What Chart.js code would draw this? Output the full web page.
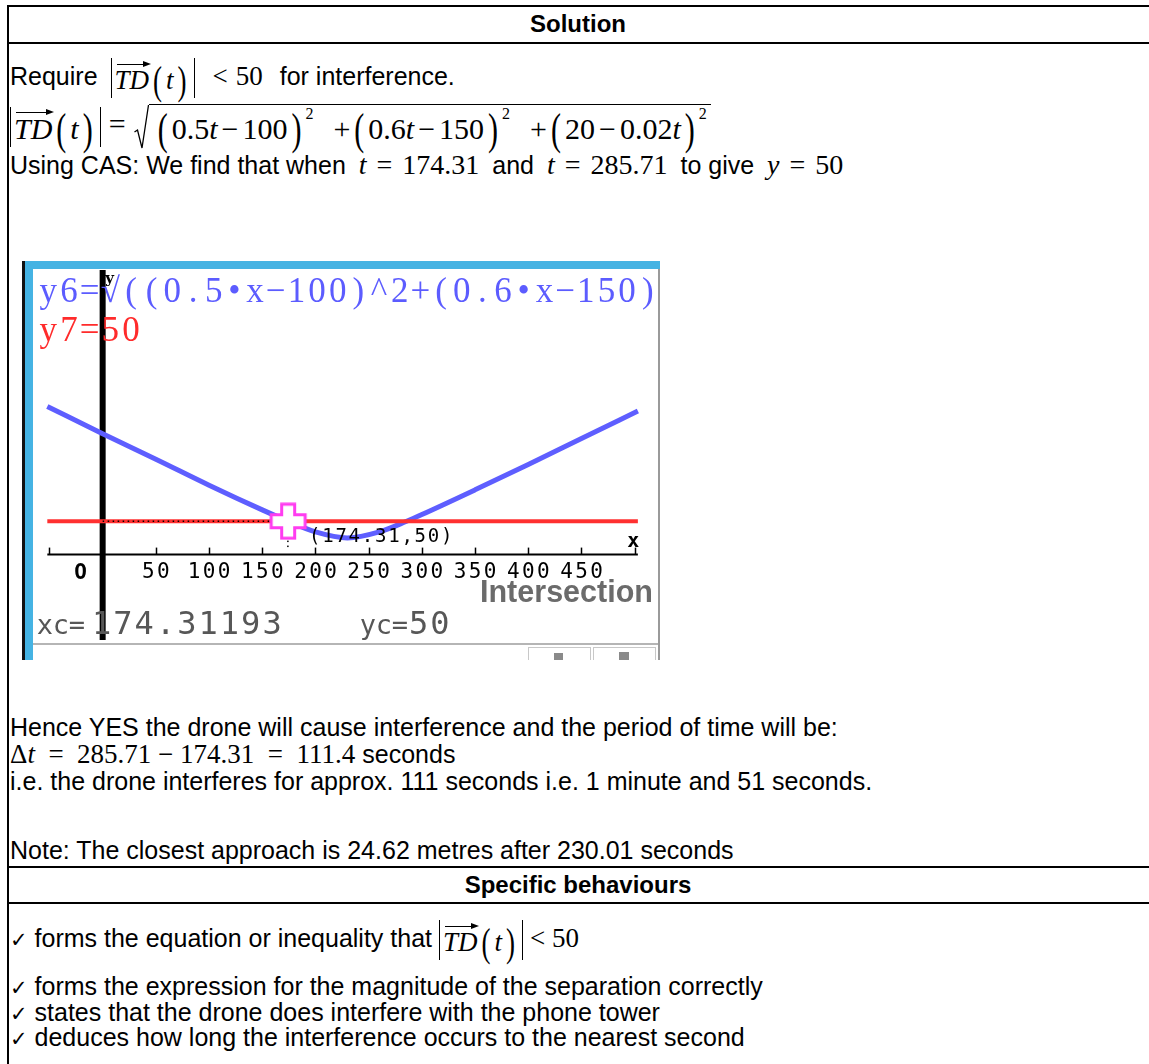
<!DOCTYPE html>
<html>
<head>
<meta charset="utf-8">
<script src="https://cdn.jsdelivr.net/npm/chart.js@4.4.1/dist/chart.umd.min.js"></script>
<style>
body{margin:0;width:1149px;height:1064px;background:#fff;position:relative;overflow:hidden;font-family:"Liberation Sans",Arial,sans-serif;font-size:25px;color:#000}
.ln{position:absolute;background:#000}
.t{position:absolute;left:10px;white-space:nowrap;line-height:28px}
.tt{line-height:44px}
.b{font-weight:bold;font-size:24px}
.m{font-family:"Liberation Serif","Times New Roman",serif;font-size:28px;margin:0 6px}
.eq{display:inline-block;margin:0 10px}
.abs{display:inline-block;border-left:1.3px solid #000;border-right:1.3px solid #000;padding:0 3px;height:40px;line-height:44px;vertical-align:middle;font-family:"Liberation Serif",serif;font-size:27px}
.vec{position:relative;display:inline-block;line-height:27px}
.vec:before{content:"";position:absolute;left:2px;right:1px;top:-3px;border-top:1.3px solid #000}
.vec:after{content:"";position:absolute;right:-2px;top:-6px;border-left:8px solid #000;border-top:3px solid transparent;border-bottom:3px solid transparent}
.rad{display:inline-flex;vertical-align:middle;height:46px}
.radc{border-top:1.3px solid #000;display:inline-flex;align-items:center;padding:2px 4px 0 5px}
.bp{display:inline-block;transform:scaleY(1.5);margin:0 4px}
.sp{display:inline-block;width:20px}
sup{font-size:16px;position:relative;top:-15px;vertical-align:baseline}
.ck{font-family:"DejaVu Sans",sans-serif;font-size:21px}
#calc{position:absolute;left:22px;top:261px}
</style>
</head>
<body>
<div class="ln" style="left:7px;top:5px;width:1142px;height:2px"></div>
<div class="ln" style="left:7px;top:42px;width:1142px;height:2px"></div>
<div class="ln" style="left:7px;top:5px;width:2px;height:1059px"></div>
<div class="ln" style="left:7px;top:866px;width:1142px;height:2px"></div>
<div class="ln" style="left:7px;top:902px;width:1142px;height:2px"></div>

<div class="t b" style="left:0;width:1156px;text-align:center;top:10px">Solution</div>

<div class="t tt" style="top:54px">Require <span class="abs" style="margin-left:6px"><span class="vec"><i>TD</i></span><span class="bp">(</span><i>t</i><span class="bp">)</span></span><span class="m" style="margin:0 10px;font-size:27px"><span class="eq" style="margin:0 8px">&lt;</span>50</span> for interference.</div>

<div class="t tt m" style="top:102px;font-size:30px;margin:0"><span class="abs" style="font-size:30px"><span class="vec"><i>TD</i></span><span class="bp">(</span><i>t</i><span class="bp">)</span></span><span class="eq" style="margin:0 8px">=</span><span class="rad"><svg width="15" height="46" viewBox="0 0 15 46"><path d="M0.5 28 L3.5 26 L8 44 L14.5 1" fill="none" stroke="#000" stroke-width="1.3"/></svg><span class="radc"><span class="bp">(</span>0.5<i>t</i><span class="eq" style="margin:0 4px">&minus;</span>100<span class="bp">)</span><sup>2</sup><span class="sp"></span>+<span class="bp">(</span>0.6<i>t</i><span class="eq" style="margin:0 4px">&minus;</span>150<span class="bp">)</span><sup>2</sup><span class="sp"></span>+<span class="bp">(</span>20<span class="eq" style="margin:0 4px">&minus;</span>0.02<i>t</i><span class="bp">)</span><sup>2</sup></span></span></div>

<div class="t" style="top:151px">Using CAS: We find that when <span class="m"><i>t</i><span class="eq">=</span>174.31</span> and <span class="m"><i>t</i><span class="eq">=</span>285.71</span> to give <span class="m"><i>y</i><span class="eq">=</span>50</span></div>

<canvas id="calc" width="638" height="399"></canvas>

<div class="t" style="top:713px">Hence YES the drone will cause interference and the period of time will be:</div>
<div class="t" style="top:740px"><span class="m" style="margin:0;font-size:27px">&Delta;<i>t</i> &nbsp;= &nbsp;285.71 &minus; 174.31 &nbsp;= &nbsp;111.4</span> seconds</div>
<div class="t" style="top:767px">i.e. the drone interferes for approx. 111 seconds i.e. 1 minute and 51 seconds.</div>
<div class="t" style="top:836px">Note: The closest approach is 24.62 metres after 230.01 seconds</div>

<div class="t b" style="left:0;width:1156px;text-align:center;top:871px">Specific behaviours</div>

<div class="t tt" style="top:916px"><span class="ck">&#10003;</span> forms the equation or inequality that <span class="abs"><span class="vec"><i>TD</i></span><span class="bp">(</span><i>t</i><span class="bp">)</span></span> <span class="m" style="margin:0;font-size:27px">&lt; 50</span></div>
<div class="t" style="top:972px"><span class="ck">&#10003;</span> forms the expression for the magnitude of the separation correctly</div>
<div class="t" style="top:998px"><span class="ck">&#10003;</span> states that the drone does interfere with the phone tower</div>
<div class="t" style="top:1023px"><span class="ck">&#10003;</span> deduces how long the interference occurs to the nearest second</div>

<script>
// values
var curveX = [-52, 0, 50, 100, 150, 174.31, 200, 230, 260, 285.71, 300, 350, 400, 450, 503];
var curveY = [222, 181, 143, 104, 67, 50, 34, 25, 34, 50, 60, 97, 135, 174, 215];
var levelX = [-52, 503];
var levelY = [50, 50];
var hitX = 174.31;
var hitY = 50;
var tickLabels = [50, 100, 150, 200, 250, 300, 350, 400, 450];
var tickMarks = [-50, 50, 100, 150, 200, 250, 300, 350, 400, 450, 500];

function pts(xs, ys) {
    return xs.map(function (x, i) { return {x: x, y: ys[i]}; });
}

// pink cross cursor
var cursor = document.createElement('canvas');
cursor.width = 40; cursor.height = 38;
(function () {
    var c = cursor.getContext('2d');
    var cx = 20, cy = 19, a = 17, w = 6.5;
    c.beginPath();
    c.moveTo(cx - w, cy - a); c.lineTo(cx + w, cy - a); c.lineTo(cx + w, cy - w);
    c.lineTo(cx + a, cy - w); c.lineTo(cx + a, cy + w); c.lineTo(cx + w, cy + w);
    c.lineTo(cx + w, cy + a); c.lineTo(cx - w, cy + a); c.lineTo(cx - w, cy + w);
    c.lineTo(cx - a, cy + w); c.lineTo(cx - a, cy - w); c.lineTo(cx - w, cy - w);
    c.closePath();
    c.fillStyle = '#fff'; c.fill();
    c.lineWidth = 3; c.strokeStyle = '#ff3cf0'; c.stroke();
})();

function grid(ctx, s, x, y, cw, font, color) {
    ctx.font = font; ctx.fillStyle = color;
    ctx.textAlign = 'center'; ctx.textBaseline = 'alphabetic';
    for (var i = 0; i < s.length; i++) ctx.fillText(s[i], x + cw * (i + 0.5), y);
}

var calcScreen = {
    id: 'calcScreen',
    beforeDraw: function (chart) {
        var c = chart.ctx, W = chart.width, H = chart.height;
        c.save();
        c.fillStyle = '#fff'; c.fillRect(0, 0, W, H);
        c.fillStyle = '#111'; c.fillRect(0, 0, 3, H);
        c.fillStyle = '#45b3e3'; c.fillRect(3, 0, 8, H); c.fillRect(3, 0, W - 3, 8);
        c.fillStyle = '#9a9a9a'; c.fillRect(W - 2, 8, 2, H - 8);
        c.fillStyle = '#b5b5b5'; c.fillRect(11, 382, W - 13, 2);
        c.strokeStyle = '#c8c8c8'; c.lineWidth = 1;
        c.strokeRect(506.5, 386.5, 62, 14); c.strokeRect(571.5, 386.5, 62, 14);
        c.fillStyle = '#8a8a8a';
        c.fillRect(532, 392, 9, 7); c.fillRect(597, 391, 10, 8);
        c.restore();
    },
    beforeDatasetsDraw: function (chart) {
        var c = chart.ctx, xs = chart.scales.x, ys = chart.scales.y;
        var y0 = ys.getPixelForValue(0), x0 = xs.getPixelForValue(0);
        c.save();
        c.strokeStyle = '#000'; c.lineWidth = 2;
        c.beginPath(); c.moveTo(xs.getPixelForValue(-52), y0); c.lineTo(xs.getPixelForValue(503), y0); c.stroke();
        tickMarks.forEach(function (v) {
            var p = Math.round(xs.getPixelForValue(v)) + 0.5;
            c.beginPath(); c.moveTo(p, y0); c.lineTo(p, y0 - 7); c.lineWidth = 1.5; c.stroke();
        });
        tickLabels.forEach(function (v) {
            var s = String(v), cw = 15;
            grid(c, s, xs.getPixelForValue(v) - cw * s.length / 2, y0 + 23, cw, '21px "DejaVu Sans Mono"', '#000');
        });
        grid(c, 'O', x0 - 30, y0 + 24, 16, 'bold 21px "DejaVu Sans Mono"', '#000');
        grid(c, 'x', xs.getPixelForValue(492), y0 - 8, 14, 'bold 20px "DejaVu Sans Mono"', '#000');
        c.fillStyle = '#000'; c.fillRect(x0 - 3, 9, 6, 370);
        grid(c, 'y', x0 + 2, 22, 10, 'bold 15px "DejaVu Serif"', '#000');
        c.restore();
    },
    afterDatasetsDraw: function (chart) {
        var c = chart.ctx, xs = chart.scales.x, ys = chart.scales.y;
        var y0 = ys.getPixelForValue(0), px = xs.getPixelForValue(hitX);
        c.save();
        grid(c, 'y6=\u221a((0.5\u2022x\u2212100)^2+(0.6\u2022x\u2212150)', 16, 41, 20.67, '35px "Liberation Serif"', '#5c5cff');
        grid(c, 'y7=50', 16, 80, 20.67, '35px "Liberation Serif"', '#ff2b2b');
        grid(c, '(174.31,50)', px + 20, y0 - 13, 13.2, '19px "DejaVu Sans Mono"', '#000');
        c.fillStyle = '#000';
        c.fillRect(px - 1, y0 - 14, 1.5, 1.5); c.fillRect(px - 1, y0 - 9, 1.5, 1.5);
        c.font = 'bold 31px "Liberation Sans"';
        c.textAlign = 'left';
        var s = 'Intersection', w = c.measureText(s).width;
        c.translate(458, 341); c.scale(173 / w, 1);
        c.lineWidth = 4; c.strokeStyle = '#fff'; c.lineJoin = 'round'; c.strokeText(s, 0, 0);
        c.fillStyle = '#6b6b6b'; c.fillText(s, 0, 0);
        c.setTransform(1, 0, 0, 1, 0, 0);
        grid(c, 'xc=', 15, 373, 16, '27px "DejaVu Sans Mono"', '#575757');
        grid(c, '174.31193', 69, 373, 21.3, '32px "DejaVu Sans Mono"', '#575757');
        grid(c, 'yc=', 338, 373, 16, '27px "DejaVu Sans Mono"', '#575757');
        grid(c, '50', 386, 373, 21.3, '32px "DejaVu Sans Mono"', '#575757');
        c.restore();
    }
};

new Chart(document.getElementById('calc'), {
    type: 'line',
    data: {
        datasets: [
            {label: 'cursor', type: 'scatter', data: [{x: hitX, y: hitY}], pointStyle: cursor, pointRadius: 19, order: -1},
            {label: 'trace', data: [{x: 0, y: hitY}, {x: hitX, y: hitY}], borderColor: '#000', borderWidth: 1.5, borderDash: [1.5, 3.5], pointRadius: 0, order: 0},
            {label: 'y7', data: pts(levelX, levelY), borderColor: '#ff3030', borderWidth: 4, pointRadius: 0, order: 1},
            {label: 'y6', data: pts(curveX, curveY), borderColor: '#5e5eff', borderWidth: 5, pointRadius: 0, cubicInterpolationMode: 'monotone', order: 2}
        ]
    },
    options: {
        responsive: false,
        animation: false,
        events: [],
        layout: {padding: {left: 11, right: 2, top: 9, bottom: 3}},
        plugins: {legend: {display: false}, tooltip: {enabled: false}},
        scales: {
            x: {type: 'linear', min: -57, max: 505, display: false},
            y: {type: 'linear', min: -128, max: 410, display: false}
        }
    },
    plugins: [calcScreen]
});
</script>
</body>
</html>
